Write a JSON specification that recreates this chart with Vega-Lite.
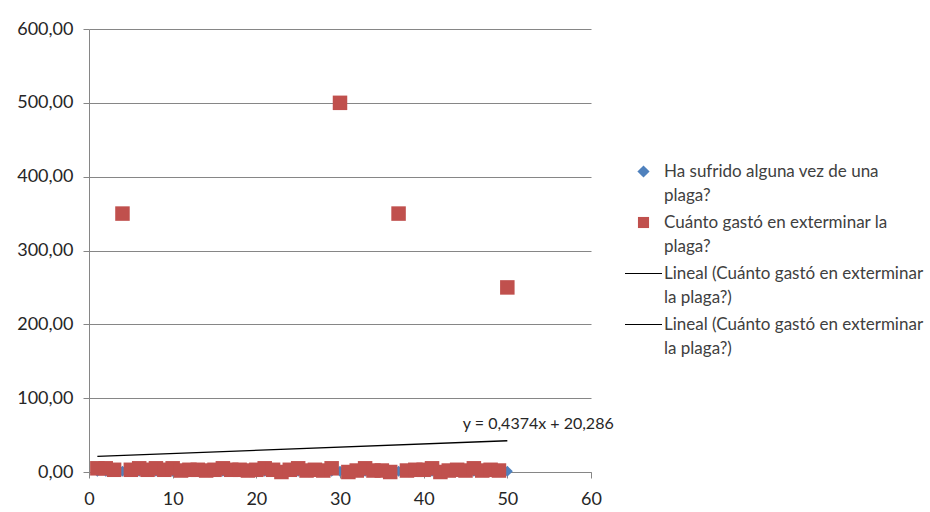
{
  "$schema": "https://vega.github.io/schema/vega-lite/v6.json",
  "width": 502,
  "height": 443,
  "autosize": "none",
  "padding": {"left": 89, "top": 29, "right": 339, "bottom": 40},
  "background": "white",
  "config": {
    "view": {"stroke": null},
    "font": "Lato",
    "style": {"guide-label": {"lineHeight": 24}},
    "axis": {
      "labelFont": "Lato",
      "labelFontSize": 18,
      "labelColor": "#262626",
      "domainColor": "#868686",
      "tickColor": "#868686",
      "gridColor": "#868686",
      "tickSize": 6,
      "title": null
    }
  },
  "data": {
    "values": [
      {"x": 1, "value": 1, "serie": "Ha sufrido alguna vez de una plaga?"},
      {"x": 2, "value": 1, "serie": "Ha sufrido alguna vez de una plaga?"},
      {"x": 3, "value": 1, "serie": "Ha sufrido alguna vez de una plaga?"},
      {"x": 4, "value": 1, "serie": "Ha sufrido alguna vez de una plaga?"},
      {"x": 5, "value": 1, "serie": "Ha sufrido alguna vez de una plaga?"},
      {"x": 6, "value": 1, "serie": "Ha sufrido alguna vez de una plaga?"},
      {"x": 7, "value": 1, "serie": "Ha sufrido alguna vez de una plaga?"},
      {"x": 8, "value": 1, "serie": "Ha sufrido alguna vez de una plaga?"},
      {"x": 9, "value": 1, "serie": "Ha sufrido alguna vez de una plaga?"},
      {"x": 10, "value": 1, "serie": "Ha sufrido alguna vez de una plaga?"},
      {"x": 11, "value": 1, "serie": "Ha sufrido alguna vez de una plaga?"},
      {"x": 12, "value": 1, "serie": "Ha sufrido alguna vez de una plaga?"},
      {"x": 13, "value": 1, "serie": "Ha sufrido alguna vez de una plaga?"},
      {"x": 14, "value": 1, "serie": "Ha sufrido alguna vez de una plaga?"},
      {"x": 15, "value": 1, "serie": "Ha sufrido alguna vez de una plaga?"},
      {"x": 16, "value": 1, "serie": "Ha sufrido alguna vez de una plaga?"},
      {"x": 17, "value": 1, "serie": "Ha sufrido alguna vez de una plaga?"},
      {"x": 18, "value": 1, "serie": "Ha sufrido alguna vez de una plaga?"},
      {"x": 19, "value": 1, "serie": "Ha sufrido alguna vez de una plaga?"},
      {"x": 20, "value": 1, "serie": "Ha sufrido alguna vez de una plaga?"},
      {"x": 21, "value": 1, "serie": "Ha sufrido alguna vez de una plaga?"},
      {"x": 22, "value": 1, "serie": "Ha sufrido alguna vez de una plaga?"},
      {"x": 23, "value": 1, "serie": "Ha sufrido alguna vez de una plaga?"},
      {"x": 24, "value": 1, "serie": "Ha sufrido alguna vez de una plaga?"},
      {"x": 25, "value": 1, "serie": "Ha sufrido alguna vez de una plaga?"},
      {"x": 26, "value": 1, "serie": "Ha sufrido alguna vez de una plaga?"},
      {"x": 27, "value": 1, "serie": "Ha sufrido alguna vez de una plaga?"},
      {"x": 28, "value": 1, "serie": "Ha sufrido alguna vez de una plaga?"},
      {"x": 29, "value": 1, "serie": "Ha sufrido alguna vez de una plaga?"},
      {"x": 30, "value": 1, "serie": "Ha sufrido alguna vez de una plaga?"},
      {"x": 31, "value": 1, "serie": "Ha sufrido alguna vez de una plaga?"},
      {"x": 32, "value": 1, "serie": "Ha sufrido alguna vez de una plaga?"},
      {"x": 33, "value": 1, "serie": "Ha sufrido alguna vez de una plaga?"},
      {"x": 34, "value": 1, "serie": "Ha sufrido alguna vez de una plaga?"},
      {"x": 35, "value": 1, "serie": "Ha sufrido alguna vez de una plaga?"},
      {"x": 36, "value": 1, "serie": "Ha sufrido alguna vez de una plaga?"},
      {"x": 37, "value": 1, "serie": "Ha sufrido alguna vez de una plaga?"},
      {"x": 38, "value": 1, "serie": "Ha sufrido alguna vez de una plaga?"},
      {"x": 39, "value": 1, "serie": "Ha sufrido alguna vez de una plaga?"},
      {"x": 40, "value": 1, "serie": "Ha sufrido alguna vez de una plaga?"},
      {"x": 41, "value": 1, "serie": "Ha sufrido alguna vez de una plaga?"},
      {"x": 42, "value": 1, "serie": "Ha sufrido alguna vez de una plaga?"},
      {"x": 43, "value": 1, "serie": "Ha sufrido alguna vez de una plaga?"},
      {"x": 44, "value": 1, "serie": "Ha sufrido alguna vez de una plaga?"},
      {"x": 45, "value": 1, "serie": "Ha sufrido alguna vez de una plaga?"},
      {"x": 46, "value": 1, "serie": "Ha sufrido alguna vez de una plaga?"},
      {"x": 47, "value": 1, "serie": "Ha sufrido alguna vez de una plaga?"},
      {"x": 48, "value": 1, "serie": "Ha sufrido alguna vez de una plaga?"},
      {"x": 49, "value": 1, "serie": "Ha sufrido alguna vez de una plaga?"},
      {"x": 50, "value": 1, "serie": "Ha sufrido alguna vez de una plaga?"},
      {"x": 1, "value": 5, "serie": "Cuánto gastó en exterminar la plaga?"},
      {"x": 2, "value": 5, "serie": "Cuánto gastó en exterminar la plaga?"},
      {"x": 3, "value": 3, "serie": "Cuánto gastó en exterminar la plaga?"},
      {"x": 4, "value": 350, "serie": "Cuánto gastó en exterminar la plaga?"},
      {"x": 5, "value": 3, "serie": "Cuánto gastó en exterminar la plaga?"},
      {"x": 6, "value": 5, "serie": "Cuánto gastó en exterminar la plaga?"},
      {"x": 7, "value": 3, "serie": "Cuánto gastó en exterminar la plaga?"},
      {"x": 8, "value": 5, "serie": "Cuánto gastó en exterminar la plaga?"},
      {"x": 9, "value": 3, "serie": "Cuánto gastó en exterminar la plaga?"},
      {"x": 10, "value": 5, "serie": "Cuánto gastó en exterminar la plaga?"},
      {"x": 11, "value": 2, "serie": "Cuánto gastó en exterminar la plaga?"},
      {"x": 12, "value": 3, "serie": "Cuánto gastó en exterminar la plaga?"},
      {"x": 13, "value": 3, "serie": "Cuánto gastó en exterminar la plaga?"},
      {"x": 14, "value": 2, "serie": "Cuánto gastó en exterminar la plaga?"},
      {"x": 15, "value": 3, "serie": "Cuánto gastó en exterminar la plaga?"},
      {"x": 16, "value": 5, "serie": "Cuánto gastó en exterminar la plaga?"},
      {"x": 17, "value": 3, "serie": "Cuánto gastó en exterminar la plaga?"},
      {"x": 18, "value": 3, "serie": "Cuánto gastó en exterminar la plaga?"},
      {"x": 19, "value": 2, "serie": "Cuánto gastó en exterminar la plaga?"},
      {"x": 20, "value": 3, "serie": "Cuánto gastó en exterminar la plaga?"},
      {"x": 21, "value": 5, "serie": "Cuánto gastó en exterminar la plaga?"},
      {"x": 22, "value": 3, "serie": "Cuánto gastó en exterminar la plaga?"},
      {"x": 23, "value": 0, "serie": "Cuánto gastó en exterminar la plaga?"},
      {"x": 24, "value": 3, "serie": "Cuánto gastó en exterminar la plaga?"},
      {"x": 25, "value": 5, "serie": "Cuánto gastó en exterminar la plaga?"},
      {"x": 26, "value": 2, "serie": "Cuánto gastó en exterminar la plaga?"},
      {"x": 27, "value": 3, "serie": "Cuánto gastó en exterminar la plaga?"},
      {"x": 28, "value": 2, "serie": "Cuánto gastó en exterminar la plaga?"},
      {"x": 29, "value": 5, "serie": "Cuánto gastó en exterminar la plaga?"},
      {"x": 30, "value": 500, "serie": "Cuánto gastó en exterminar la plaga?"},
      {"x": 31, "value": 0, "serie": "Cuánto gastó en exterminar la plaga?"},
      {"x": 32, "value": 2, "serie": "Cuánto gastó en exterminar la plaga?"},
      {"x": 33, "value": 5, "serie": "Cuánto gastó en exterminar la plaga?"},
      {"x": 34, "value": 2, "serie": "Cuánto gastó en exterminar la plaga?"},
      {"x": 35, "value": 2, "serie": "Cuánto gastó en exterminar la plaga?"},
      {"x": 36, "value": 0, "serie": "Cuánto gastó en exterminar la plaga?"},
      {"x": 37, "value": 350, "serie": "Cuánto gastó en exterminar la plaga?"},
      {"x": 38, "value": 2, "serie": "Cuánto gastó en exterminar la plaga?"},
      {"x": 39, "value": 3, "serie": "Cuánto gastó en exterminar la plaga?"},
      {"x": 40, "value": 3, "serie": "Cuánto gastó en exterminar la plaga?"},
      {"x": 41, "value": 5, "serie": "Cuánto gastó en exterminar la plaga?"},
      {"x": 42, "value": 0, "serie": "Cuánto gastó en exterminar la plaga?"},
      {"x": 43, "value": 2, "serie": "Cuánto gastó en exterminar la plaga?"},
      {"x": 44, "value": 3, "serie": "Cuánto gastó en exterminar la plaga?"},
      {"x": 45, "value": 2, "serie": "Cuánto gastó en exterminar la plaga?"},
      {"x": 46, "value": 5, "serie": "Cuánto gastó en exterminar la plaga?"},
      {"x": 47, "value": 2, "serie": "Cuánto gastó en exterminar la plaga?"},
      {"x": 48, "value": 3, "serie": "Cuánto gastó en exterminar la plaga?"},
      {"x": 49, "value": 2, "serie": "Cuánto gastó en exterminar la plaga?"},
      {"x": 50, "value": 250, "serie": "Cuánto gastó en exterminar la plaga?"}
    ]
  },
  "layer": [
    {
      "mark": {"type": "point", "filled": true, "opacity": 1},
      "encoding": {
        "x": {
          "field": "x", "type": "quantitative",
          "scale": {"domain": [0, 60], "nice": false, "zero": false},
          "axis": {"values": [0, 10, 20, 30, 40, 50, 60], "grid": false, "labelPadding": 12, "labelFlush": false}
        },
        "y": {
          "field": "value", "type": "quantitative",
          "scale": {"domain": [0, 600], "nice": false},
          "axis": {
            "values": [0, 100, 200, 300, 400, 500, 600],
            "grid": true,
            "labelPadding": 10,
            "labelExpr": "replace(format(datum.value, '.2f'), '.', ',')"
          }
        },
        "color": {
          "field": "serie", "type": "nominal",
          "scale": {
            "domain": ["Ha sufrido alguna vez de una plaga?", "Cuánto gastó en exterminar la plaga?", "Lineal 1", "Lineal 2"],
            "range": ["#4F81BD", "#C0504D", "black", "black"]
          },
          "legend": {
            "orient": "none",
            "legendX": 536,
            "legendY": 124,
            "title": null,
            "padding": 0,
            "labelFont": "Lato",
            "labelFontSize": 17,
            "labelColor": "#404040",
            "labelLimit": 400,
            "labelOffset": 2,
            "labelBaseline": "middle",
            "rowPadding": -9,
            "symbolSize": 1369,
            "symbolStrokeWidth": 0,
            "symbolOpacity": 1,
            "labelExpr": "datum.value == 'Ha sufrido alguna vez de una plaga?' ? ['Ha sufrido alguna vez de una', 'plaga?'] : datum.value == 'Cuánto gastó en exterminar la plaga?' ? ['Cuánto gastó en exterminar  la', 'plaga?'] : ['Lineal (Cuánto gastó en exterminar', 'la plaga?)']"
          }
        },
        "shape": {
          "field": "serie", "type": "nominal",
          "scale": {
            "domain": ["Ha sufrido alguna vez de una plaga?", "Cuánto gastó en exterminar la plaga?", "Lineal 1", "Lineal 2"],
            "range": [
              "M0,-0.33L0.33,0L0,0.33L-0.33,0Z",
              "M-0.3,-0.3L0.3,-0.3L0.3,0.3L-0.3,0.3Z",
              "M-1,-0.025L1,-0.025L1,0.025L-1,0.025Z",
              "M-1,-0.025L1,-0.025L1,0.025L-1,0.025Z"
            ]
          }
        },
        "size": {
          "condition": {"test": "datum.serie == 'Ha sufrido alguna vez de una plaga?'", "value": 1110},
          "value": 2336
        }
      }
    },
    {
      "transform": [
        {"filter": "datum.serie == 'Cuánto gastó en exterminar la plaga?'"},
        {"regression": "value", "on": "x"}
      ],
      "mark": {"type": "line", "color": "black", "strokeWidth": 1.3},
      "encoding": {
        "x": {"field": "x", "type": "quantitative"},
        "y": {"field": "value", "type": "quantitative"}
      }
    },
    {
      "data": {"values": [{"x": 53.7, "value": 65, "label": "y = 0,4374x + 20,286"}]},
      "mark": {"type": "text", "font": "Lato", "fontSize": 16, "color": "#262626", "align": "center", "baseline": "middle"},
      "encoding": {
        "x": {"field": "x", "type": "quantitative"},
        "y": {"field": "value", "type": "quantitative"},
        "text": {"field": "label"}
      }
    }
  ]
}
